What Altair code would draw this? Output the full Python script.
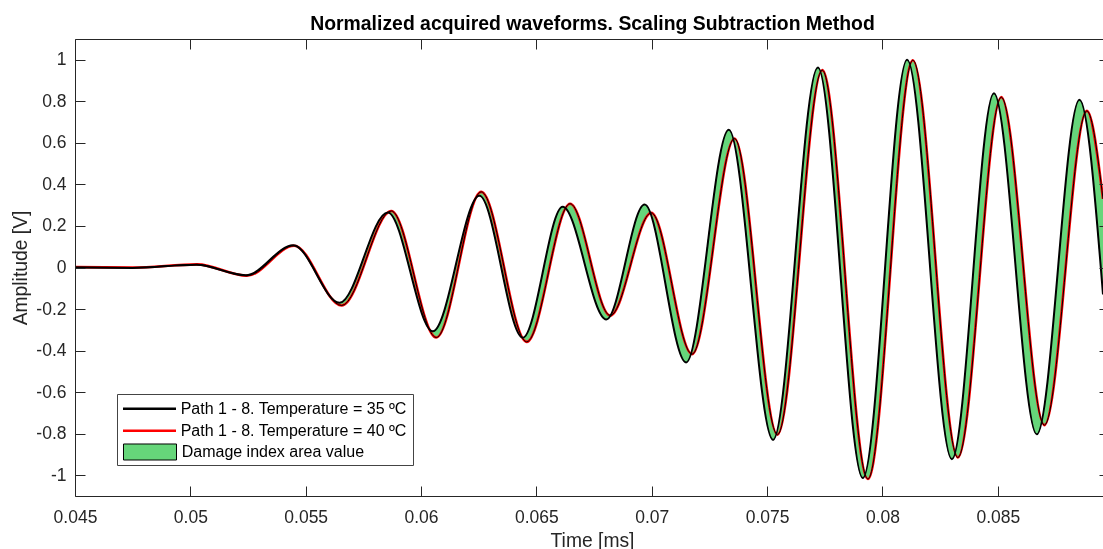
import altair as alt
import pandas as pd

# Waveform turning points: time [ms] and normalized amplitude [V]
black_t = [0.045, 0.0475, 0.05025, 0.05240, 0.05446, 0.05647, 0.05856, 0.06051,
           0.06253, 0.06441, 0.06614, 0.06803, 0.06969, 0.07149, 0.07334, 0.07526,
           0.07720, 0.07915, 0.08107, 0.08301, 0.08483, 0.08669, 0.08854, 0.08956]
black_v = [0.0, -0.002, 0.013, -0.037, 0.107, -0.170, 0.265, -0.307,
           0.345, -0.338, 0.292, -0.250, 0.303, -0.457, 0.663, -0.830,
           0.963, -1.013, 1.0, -0.923, 0.839, -0.803, 0.807, -0.13]

red_t = [0.045, 0.0475, 0.0503, 0.05245, 0.05450, 0.05656, 0.05871, 0.06066,
         0.06261, 0.06458, 0.06646, 0.06820, 0.06998, 0.07175, 0.07359, 0.07545,
         0.07739, 0.07937, 0.08132, 0.08327, 0.08515, 0.08702, 0.08886, 0.08956]
red_v = [0.002, 0.0, 0.015, -0.040, 0.105, -0.183, 0.272, -0.337,
         0.364, -0.358, 0.307, -0.231, 0.263, -0.417, 0.621, -0.805,
         0.950, -1.018, 0.998, -0.915, 0.820, -0.759, 0.754, 0.33]

series_35 = "Path 1 - 8. Temperature = 35 ºC"
series_40 = "Path 1 - 8. Temperature = 40 ºC"
area_label = "Damage index area value"

x_ticks = [0.045, 0.05, 0.055, 0.06, 0.065, 0.07, 0.075, 0.08, 0.085]
y_ticks = [-1, -0.8, -0.6, -0.4, -0.2, 0, 0.2, 0.4, 0.6, 0.8, 1]

X_DOMAIN = [0.045, 0.08956]
Y_DOMAIN = [-1.1, 1.1]
W, H = 1028, 457

FONT = "Liberation Sans"
AX = "#262626"
GREEN = "#66D67A"

df_black = pd.DataFrame({"t": black_t, "v": black_v, "series": series_35})
df_red = pd.DataFrame({"t": red_t, "v": red_v, "series": series_40})
df_area = pd.DataFrame({"label": [area_label]})
df_box = pd.DataFrame({"k": [0]})

xs = alt.Scale(domain=X_DOMAIN, nice=False, zero=False)
ys = alt.Scale(domain=Y_DOMAIN, nice=False, zero=False)
stroke_scale = alt.Scale(domain=[series_35, series_40], range=["#000000", "#FF0000"])


def frame_axis(orient):
    return alt.Axis(orient=orient, domain=True, domainColor=AX, domainWidth=1,
                    ticks=False, labels=False, grid=False, title=None, zindex=1)


def tick_axis(orient, values, size=10, **kw):
    return alt.Axis(orient=orient, values=values, offset=-size, tickSize=size,
                    tickColor=AX, tickWidth=1, domain=False, grid=False,
                    zindex=1, **kw)


label_style = dict(labelExpr="toString(datum.value)", labelFont=FONT,
                   labelFontSize=17.5, labelColor=AX, labelFlush=False,
                   labelOverlap=False)

bottom_axis = tick_axis("bottom", x_ticks, labelPadding=12, title="Time [ms]",
                        titleFont=FONT, titleFontSize=19.3, titleFontWeight="normal",
                        titleColor=AX, titleX=(W + 6) / 2, titleY=60.8,
                        titleBaseline="alphabetic", titleAlign="center", **label_style)
left_axis = tick_axis("left", y_ticks, labelPadding=9, title="Amplitude [V]",
                      titleFont=FONT, titleFontSize=19.3, titleFontWeight="normal",
                      titleColor=AX, titleX=-58.7, titleY=H / 2,
                      titleBaseline="alphabetic", titleAlign="center", **label_style)
top_axis = tick_axis("top", x_ticks, labels=False, title=None)
# the right frame edge sits just past the drawing, only the tick stubs show
right_axis = tick_axis("right", y_ticks, size=4, labels=False, title=None)

line_legend = alt.Legend(orient="none", legendX=66, legendY=361.2, title=None,
                         direction="vertical", symbolType="M-3.786,0H3.786",
                         symbolSize=196, symbolStrokeWidth=2.6, labelFont=FONT,
                         labelFontSize=16, labelColor="#000", labelOffset=22.7,
                         labelLimit=400, rowPadding=5, padding=0)
fill_legend = alt.Legend(orient="none", legendX=67, legendY=405, title=None,
                         symbolType="M-3.786,-1.143H3.786V1.143H-3.786Z",
                         symbolSize=196, symbolStrokeColor="#000", symbolStrokeWidth=1,
                         symbolOpacity=1, labelFont=FONT, labelFontSize=16,
                         labelColor="#000", labelOffset=23.7, labelLimit=400, padding=0)

# Region between the two waveforms: areas hanging from the top edge cancel
# each other where they overlap, leaving only the band between the curves
area_black = alt.Chart(df_black).mark_area(
    fill="white", strokeWidth=0, opacity=1, blend="difference", interpolate="monotone"
).encode(
    x=alt.X("t:Q", scale=xs, axis=frame_axis("bottom")),
    y=alt.Y("v:Q", scale=ys, axis=frame_axis("left"), stack=False),
    y2=alt.value(0),
)
area_red = alt.Chart(df_red).mark_area(
    fill="white", strokeWidth=0, opacity=1, blend="difference", interpolate="monotone"
).encode(
    x=alt.X("t:Q", scale=xs, axis=frame_axis("top")),
    y=alt.Y("v:Q", scale=ys, axis=None, stack=False),
    y2=alt.value(0),
)
tint = alt.Chart(df_area).mark_rect(blend="lighten").encode(
    x=alt.value(0), x2=alt.value("width"), y=alt.value(0), y2=alt.value("height"),
    fill=alt.Fill("label:N", scale=alt.Scale(domain=[area_label], range=[GREEN]),
                  legend=fill_legend),
)

red_line = alt.Chart(df_red).mark_line(strokeWidth=2.6, interpolate="monotone").encode(
    x=alt.X("t:Q", scale=xs, axis=top_axis),
    y=alt.Y("v:Q", scale=ys, axis=right_axis),
    stroke=alt.Stroke("series:N", scale=stroke_scale, legend=line_legend),
)
red_edge = alt.Chart(df_red).mark_line(color="#000", strokeWidth=1, interpolate="monotone").encode(
    x=alt.X("t:Q", scale=xs, axis=None),
    y=alt.Y("v:Q", scale=ys, axis=None),
)
black_line = alt.Chart(df_black).mark_line(strokeWidth=2, interpolate="monotone").encode(
    x=alt.X("t:Q", scale=xs, axis=bottom_axis),
    y=alt.Y("v:Q", scale=ys, axis=left_axis),
    stroke=alt.Stroke("series:N", scale=stroke_scale, legend=line_legend),
)
legend_box = alt.Chart(df_box).mark_rect(fill="white", stroke="#444", strokeWidth=1).encode(
    x=alt.value(42.5), x2=alt.value(338.5), y=alt.value(355.5), y2=alt.value(426.5)
)

chart = alt.layer(
    area_black, area_red, tint, red_line, red_edge, black_line, legend_box
).resolve_axis(
    x="independent", y="independent"
).properties(
    width=W, height=H,
    padding={"left": 75, "top": 39, "right": 0, "bottom": 53},
    autosize=alt.AutoSizeParams(type="none"),
    title=alt.TitleParams(
        text="Normalized acquired waveforms. Scaling Subtraction Method",
        font=FONT, fontSize=19.4, fontWeight="bold", color="#000",
        anchor="middle", frame="group", offset=7.3, baseline="alphabetic",
        dx=3.5, dy=17.7,
    ),
).configure(font=FONT, background="white").configure_view(strokeWidth=0)

chart.save("out.html", embed_options={"renderer": "svg", "actions": False})
